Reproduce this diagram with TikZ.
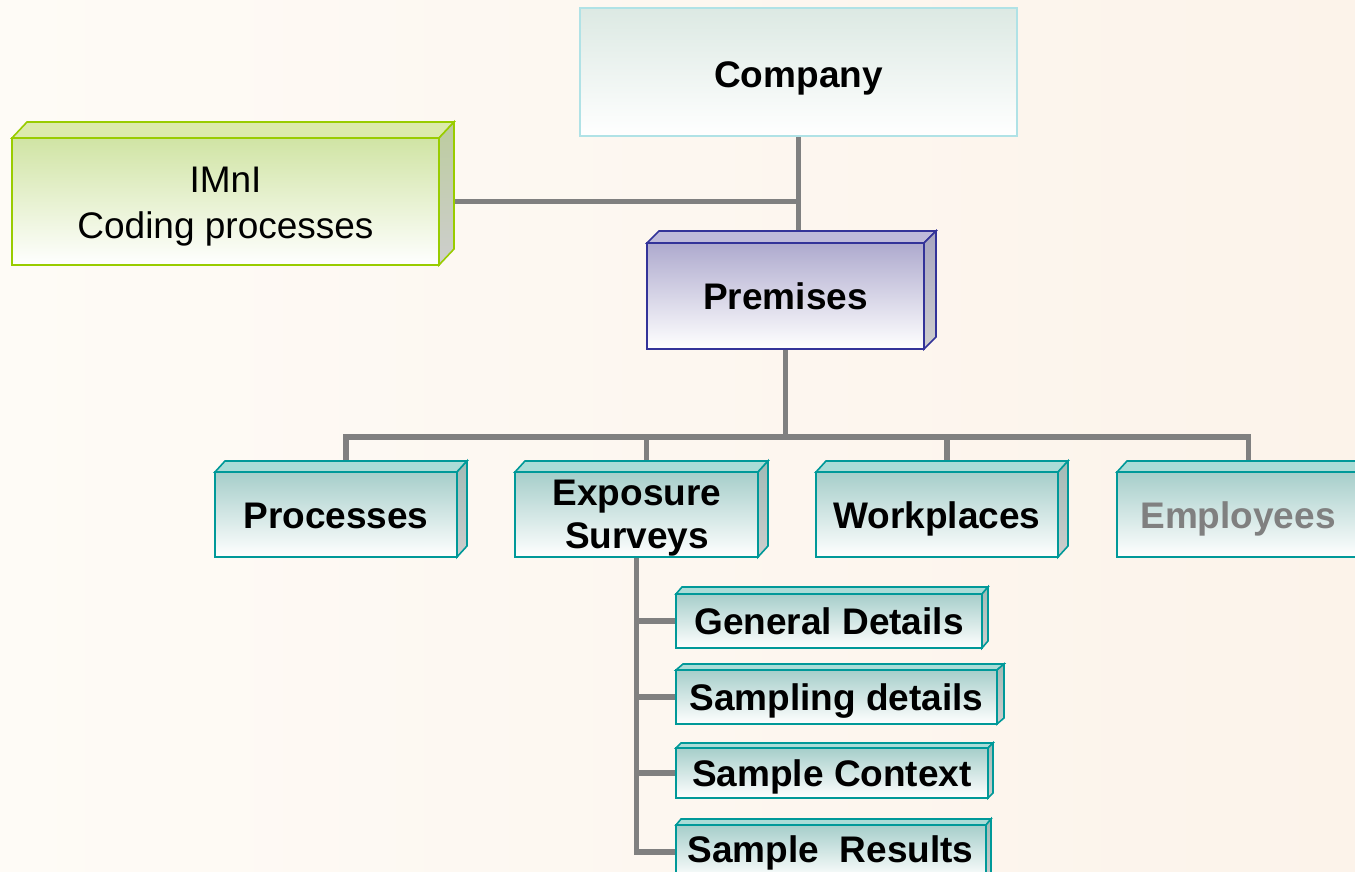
\documentclass[tikz,border=0pt]{standalone}
\usepackage{fontspec}
\setmainfont{Liberation Sans}
\usetikzlibrary{calc}

\pgfdeclarelayer{bg}
\pgfdeclarelayer{wires}
\pgfsetlayers{bg,wires,main}

% palette
\definecolor{paperA}{RGB}{254,251,246}
\definecolor{paperB}{RGB}{252,243,234}
\definecolor{wire}{RGB}{128,128,128}
\definecolor{tealline}{RGB}{0,153,153}
\definecolor{tealtop}{RGB}{170,220,215}
\definecolor{tealfront}{RGB}{166,206,202}
\definecolor{tealside}{RGB}{160,186,182}
\definecolor{navyline}{RGB}{51,51,153}
\definecolor{navytop}{RGB}{190,186,218}
\definecolor{navyfront}{RGB}{174,170,206}
\definecolor{navyside}{RGB}{166,164,192}
\definecolor{limeline}{RGB}{153,204,0}
\definecolor{limetop}{RGB}{220,234,172}
\definecolor{limefront}{RGB}{208,228,164}
\definecolor{limeside}{RGB}{188,204,158}
\definecolor{sideend}{RGB}{206,206,206}
\definecolor{cyanline}{RGB}{176,226,230}
\definecolor{cyanfill}{RGB}{220,233,227}
\definecolor{dimtext}{RGB}{128,128,128}

\tikzset{
  wire/.style={draw=wire, line width=5.5pt},
  face/.style={line width=1.6pt, line join=miter},
  lbl/.style={font=\fontsize{37}{45}\selectfont\bfseries, anchor=base, inner sep=0pt},
  plainlbl/.style={font=\fontsize{37}{45}\selectfont, anchor=base, inner sep=0pt},
}

% a box with visible top and right faces:
% #1 name, #2 left, #3 top, #4 right, #5 bottom (front face),
% #6 depth x, #7 depth y, #8 colour family
\newcommand\solidbox[8]{%
  \node[rectangle, face, draw=#8line, inner sep=0pt, outer sep=0pt,
        top color=#8front, middle color=#8front!45!white, bottom color=white,
        minimum width={(#4-#2)*1pt}, minimum height={(#5-#3)*1pt}]
        (#1) at ({(#2+#4)/2},{(#3+#5)/2}) {};
  \filldraw[face, draw=#8line, fill=#8top]
    (#1.north west) -- ++(#6pt,#7pt) -- ([shift={(#6pt,#7pt)}]#1.north east)
    -- (#1.north east) -- cycle;
  \shadedraw[face, draw=#8line, top color=#8side, bottom color=sideend]
    (#1.north east) -- ++(#6pt,#7pt) -- ([shift={(#6pt,#7pt)}]#1.south east)
    -- (#1.south east) -- cycle;
  \coordinate (#1-top) at ([xshift=#6pt,yshift=#7pt]#1.north);
}

\begin{document}
\begin{tikzpicture}[x=1pt, y=-1pt]
\useasboundingbox (0,0) rectangle (1355,872);
\begin{pgfonlayer}{bg}
  \shade[left color=paperA, right color=paperB] (0,0) rectangle (1355,872);
\end{pgfonlayer}
\clip (0,0) rectangle (1355,872);

% top level
\node[rectangle, draw=cyanline, line width=1.6pt, inner sep=0pt, outer sep=0pt,
      top color=cyanfill, bottom color=white,
      minimum width=437pt, minimum height=128pt] (company) at (798.5,72) {};
\node[lbl] (company-l) at (798.5,88) {Company};

\solidbox{imni}{12}{138}{439}{265}{15}{16}{lime}
\node[plainlbl] (imni-l1) at (225.5,193) {IMnI};
\node[plainlbl] (imni-l2) at (225.5,238) {Coding processes};

\solidbox{prem}{647}{243}{924}{349}{12}{12}{navy}
\node[lbl] (prem-l) at (785.5,309) {Premises};

% second level
\solidbox{proc}{215}{472}{457}{557}{10}{11}{teal}
\node[lbl] (proc-l) at (336,528) {Processes};
\solidbox{expo}{515}{472}{758}{557}{10}{11}{teal}
\node[lbl] (expo-l1) at (637,505) {Exposure};
\node[lbl] (expo-l2) at (637,548) {Surveys};
\solidbox{work}{816}{472}{1058}{557}{10}{11}{teal}
\node[lbl] (work-l) at (937,528) {Workplaces};
\solidbox{emp}{1117}{472}{1360}{557}{10}{11}{teal}
\node[lbl, text=dimtext] (emp-l) at (1238,528) {Employees};

% survey parts
\solidbox{gen}{676}{594}{982}{648}{6}{7}{teal}
\node[lbl] (gen-l) at (829,634) {General Details};
\solidbox{samp}{676}{670}{997}{724}{7}{6}{teal}
\node[lbl] (samp-l) at (836.5,710) {Sampling details};
\solidbox{ctx}{676}{748}{988}{798}{5}{5}{teal}
\node[lbl] (ctx-l) at (832,786) {Sample Context};
\solidbox{res}{676}{825}{986}{879}{5}{6}{teal}
\node[lbl] (res-l) at (830.5,862) {Sample\ \ Results};

% connectors
\begin{pgfonlayer}{wires}
  \coordinate (bus) at (0,437);
  \draw[wire] (company.south) -- (company.south |- prem-top);
  \draw[wire] ([xshift=15pt]imni.east) -- (company.south |- imni.east);
  \foreach \c in {proc,expo,work,emp}
    \draw[wire] (prem.south) -- (prem.south |- bus) -| (\c-top);
  \foreach \c in {gen,samp,ctx,res}
    \draw[wire] (expo.south) |- (\c.west);
\end{pgfonlayer}
\end{tikzpicture}
\end{document}
